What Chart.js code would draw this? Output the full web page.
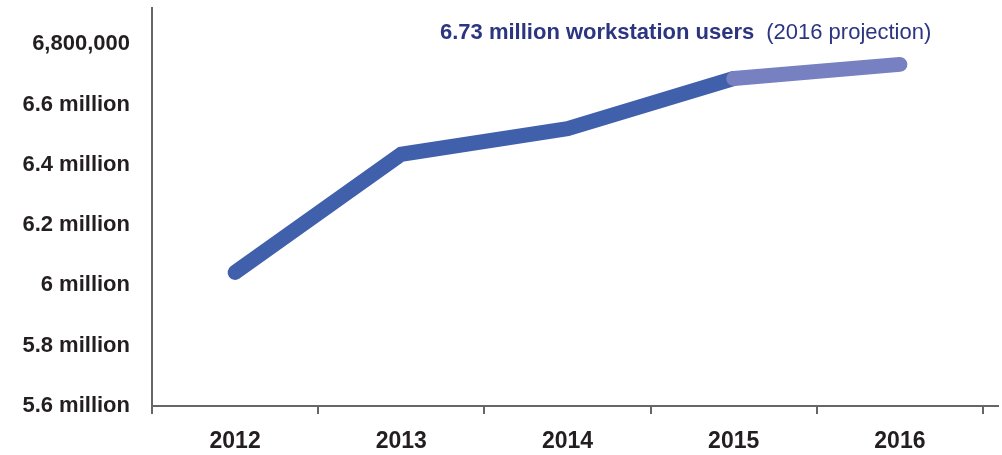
<!DOCTYPE html>
<html>
<head>
<meta charset="utf-8">
<script src="https://cdn.jsdelivr.net/npm/chart.js@4"></script>
<style>
  html, body { margin: 0; padding: 0; background: #fff; }
  #wrap { width: 1002px; height: 455px; }
</style>
</head>
<body>
<div id="wrap"><canvas id="usersChart"></canvas></div>
<script>
// data (millions of workstation users)
const years = ['2012', '2013', '2014', '2015', '2016'];
const users = [6.043, 6.435, 6.52, 6.686, 6.733];
const yTicks = [5.6, 5.8, 6.0, 6.2, 6.4, 6.6, 6.8];
const yTickLabels = ['5.6 million', '5.8 million', '6 million', '6.2 million', '6.4 million', '6.6 million', '6,800,000'];
const headline = '6.73 million workstation users';
const headlineNote = '(2016 projection)';

const FONT = '"Liberation Sans", Arial, sans-serif';
const axisColor = '#666666';

const axisAndHeadline = {
  id: 'axisAndHeadline',
  afterDraw(chart) {
    const { ctx, chartArea } = chart;
    ctx.save();
    // x axis line runs a bit past the last tick
    ctx.strokeStyle = axisColor;
    ctx.lineWidth = 2;
    ctx.beginPath();
    ctx.moveTo(chartArea.left - 1, chartArea.bottom);
    ctx.lineTo(999, chartArea.bottom);
    ctx.stroke();

    // headline
    ctx.fillStyle = '#2b3580';
    ctx.textBaseline = 'alphabetic';
    ctx.font = 'bold 22px ' + FONT;
    ctx.fillText(headline, 440, 39);
    const w = ctx.measureText(headline).width;
    ctx.font = '22px ' + FONT;
    ctx.fillText(headlineNote, 440 + w + 12, 39);
    ctx.restore();
  }
};

new Chart(document.getElementById('usersChart'), {
  type: 'line',
  data: {
    labels: years,
    datasets: [{
      label: 'Workstation users',
      data: users,
      borderColor: '#4160ac',
      borderWidth: 15,
      borderCapStyle: 'round',
      borderJoinStyle: 'miter',
      pointRadius: 0,
      tension: 0,
      clip: false,
      segment: {
        borderColor: c => c.p1DataIndex === 4 ? '#7780c0' : '#4160ac'
      }
    }]
  },
  options: {
    responsive: true,
    maintainAspectRatio: false,
    animation: false,
    layout: { padding: { top: 8, right: 19, left: 0, bottom: 0 } },
    plugins: {
      legend: { display: false },
      tooltip: { enabled: false }
    },
    scales: {
      x: {
        offset: true,
        grid: {
          offset: true,
          drawOnChartArea: false,
          drawTicks: true,
          tickLength: 8,
          color: axisColor,
          lineWidth: 2
        },
        border: { display: false },
        ticks: {
          color: '#231f20',
          padding: 14,
          font: { family: FONT, size: 23, weight: 'bold' }
        },
        afterFit: s => { s.height = 49; s.paddingLeft = 0; s.paddingRight = 0; }
      },
      y: {
        min: 5.6,
        max: 6.92,
        afterBuildTicks: s => { s.ticks = yTicks.map(v => ({ value: v })); },
        grid: { display: false, drawTicks: false },
        border: { display: true, color: axisColor, width: 2 },
        ticks: {
          color: '#231f20',
          padding: 22,
          font: { family: FONT, size: 22, weight: 'bold' },
          callback: v => {
            const i = yTicks.findIndex(t => Math.abs(t - v) < 1e-6);
            return i >= 0 ? yTickLabels[i] : '';
          }
        },
        afterFit: s => { s.width = 152; s.paddingTop = 0; s.paddingBottom = 0; }
      }
    }
  },
  plugins: [axisAndHeadline]
});
</script>
</body>
</html>
